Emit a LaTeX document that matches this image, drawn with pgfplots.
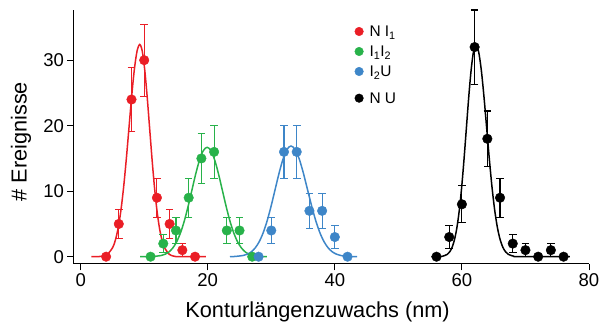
\documentclass[border=0pt]{standalone}
\usepackage{pgfplots}
\pgfplotsset{compat=1.18}
\usepackage{fontspec}
\setmainfont{Liberation Sans}
\definecolor{cred}{RGB}{234,30,38}
\definecolor{cgreen}{RGB}{40,178,74}
\definecolor{cblue}{RGB}{62,134,200}
\begin{document}
\begin{tikzpicture}
\begin{axis}[
 scale only axis, width=515bp, height=253.5bp,
 xmin=-1.05, xmax=80, ymin=-1.1, ymax=37.6,
 axis x line*=bottom, axis y line*=left,
 axis line style={line width=1bp, -},
 tick style={line width=1bp, black},
 tick align=outside, major tick length=6.5bp,
 xtick={0,20,40,60,80}, ytick={0,10,20,30},
 minor tick num=0,
 /pgf/number format/assume math mode=true,
 ticklabel style={font=\fontsize{18.6}{20}\selectfont},
 label style={font=\fontsize{21.8}{24}\selectfont},
 xlabel={Konturlängenzuwachs (nm)},
 ylabel={\# Ereignisse},
 xlabel style={at={(axis description cs:0.473,-0.2134)}, anchor=base},
 ylabel style={at={(axis description cs:-0.0918,0.482)}, anchor=base},
 clip=false,
 legend cell align=left,
 legend image code/.code={\draw[#1, mark size=4.3bp] plot coordinates {(4.3bp,5.5bp)}; \path (0bp,0bp) (14.5bp,9bp);},
 legend style={draw=none, fill=none, at={(axis cs:43.08,35.25)}, anchor=north west,
   inner sep=0pt, column sep=0bp, row sep=5bp,
   font=\fontsize{15.5}{17}\selectfont,
   cells={anchor=base west},
   nodes={inner sep=0bp, text height=11bp, text depth=4bp}},
 fitline/.style={line width=1.5bp, smooth, no marks, forget plot},
 pts/.style={only marks, mark=*, mark size=4.8bp,
   error bars/.cd, y dir=both, y explicit,
   error bar style={line width=1.1bp},
   error mark options={rotate=90, mark size=3.8bp, line width=1.1bp}},
]
% fit curves
\addplot[cred, fitline] coordinates {(1.7,0) (2.5,0.01) (3.35,0.07) (4.2,0.36) (5.05,1.42) (5.475,2.58) (5.9,4.38) (6.325,7.01) (6.75,10.52) (7.175,14.83) (7.6,19.65) (8.025,24.46) (8.45,28.59) (8.875,31.40) (9.3,32.4) (9.6875,31.40) (10.075,28.59) (10.4625,24.46) (10.85,19.65) (11.2375,14.83) (11.625,10.52) (12.0125,7.01) (12.4,4.38) (12.7875,2.58) (13.175,1.42) (13.95,0.36) (14.725,0.07) (15.5,0.01) (19.7,0)};
\addplot[cgreen, fitline] coordinates {(9.35,0) (10.3,0.005) (11.5,0.04) (12.7,0.19) (13.3,0.38) (13.9,0.73) (14.5,1.33) (15.1,2.26) (15.7,3.61) (16.3,5.42) (16.9,7.65) (17.5,10.13) (18.1,12.61) (18.7,14.74) (19.3,16.19) (19.9,16.7) (20.5,16.19) (21.1,14.74) (21.7,12.61) (22.3,10.13) (22.9,7.65) (23.5,5.42) (24.1,3.61) (24.7,2.26) (25.3,1.33) (25.9,0.73) (26.5,0.38) (27.1,0.19) (28.3,0.04) (29.3,0)};
\addplot[cblue, fitline] coordinates {(23.5,0) (24.35,0.04) (25.6,0.19) (26.225,0.39) (26.85,0.74) (27.475,1.35) (28.1,2.29) (28.725,3.66) (29.35,5.49) (29.975,7.74) (30.6,10.25) (31.225,12.76) (31.85,14.91) (32.475,16.38) (33.1,16.9) (33.75,16.38) (34.4,14.91) (35.05,12.76) (35.7,10.25) (36.35,7.74) (37.0,5.49) (37.65,3.66) (38.3,2.29) (38.95,1.35) (39.6,0.74) (40.25,0.39) (40.9,0.19) (42.2,0.04) (43.5,0)};
\addplot[black, fitline] coordinates {(55.2,0) (56.2,0.01) (56.95,0.07) (57.7,0.36) (58.075,0.74) (58.45,1.42) (58.825,2.57) (59.2,4.37) (59.575,6.99) (59.95,10.49) (60.325,14.79) (60.7,19.59) (61.075,24.38) (61.45,28.50) (61.825,31.31) (62.2,32.3) (62.625,31.31) (63.05,28.50) (63.475,24.38) (63.9,19.59) (64.325,14.79) (64.75,10.49) (65.175,6.99) (65.6,4.37) (66.025,2.57) (66.45,1.42) (66.875,0.74) (67.3,0.36) (68.15,0.07) (69.0,0.01) (77.0,0)};
% data
\addplot[cred, pts] table[x=x, y=y, y error=e] {
x y e
4 0 0
6 5 2.24
8 24 4.90
10 30 5.48
12 9 3
14 5 2.24
16 1 1
18 0 0
};
\addlegendentry{N I\textsubscript{1}}
\addplot[cgreen, pts] table[x=x, y=y, y error=e] {
x y e
11 0 0
13 2 1.41
15 4 2
17 9 3
19 15 3.87
21 16 4
23 4 2
25 4 2
27 0 0
};
\addlegendentry{I\textsubscript{1}I\textsubscript{2}}
\addplot[cblue, pts] table[x=x, y=y, y error=e] {
x y e
28 0 0
30 4 2
32 16 4
34 16 4
36 7 2.65
38 7 2.65
40 3 1.73
42 0 0
};
\addlegendentry[text depth=10.7bp]{I\textsubscript{2}U}
\addplot[black, pts] table[x=x, y=y, y error=e] {
x y e
56 0 0
58 3 1.73
60 8 2.83
62 32 5.66
64 18 4.24
66 9 3
68 2 1.41
70 1 1
72 0 0
74 1 1
76 0 0
};
\addlegendentry{N U}
\end{axis}
\pgfresetboundingbox
\path (-74bp,-62.1bp) rectangle (527bp,263.9bp);
\end{tikzpicture}
\end{document}
